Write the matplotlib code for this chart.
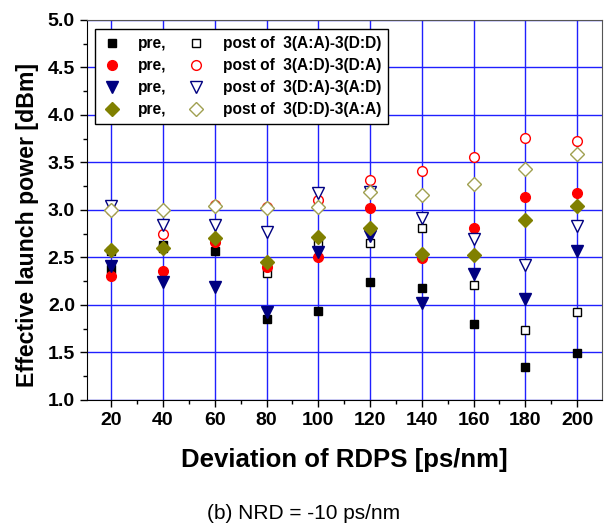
import matplotlib
matplotlib.use("Agg")
import matplotlib.pyplot as plt
from matplotlib.ticker import MultipleLocator, FormatStrFormatter

plt.rcParams["font.family"] = ["Liberation Sans", "DejaVu Sans"]

rdps = [20, 40, 60, 80, 100, 120, 140, 160, 180, 200]

# pre / post for each map
pre_aa_dd = [2.38, 2.63, 2.57, 1.85, 1.94, 2.24, 2.18, 1.80, 1.35, 1.49]
post_aa_dd = [2.57, 2.60, 2.68, 2.34, 2.65, 2.65, 2.81, 2.21, 1.74, 1.93]
pre_ad_da = [2.30, 2.36, 2.66, 2.40, 2.51, 3.02, 2.49, 2.81, 3.14, 3.18]
post_ad_da = [3.00, 2.75, 3.05, 3.03, 3.10, 3.32, 3.41, 3.56, 3.76, 3.73]
pre_da_ad = [2.41, 2.24, 2.19, 1.93, 2.56, 2.73, 2.02, 2.33, 2.06, 2.57]
post_da_ad = [3.04, 2.84, 2.84, 2.77, 3.18, 3.19, 2.92, 2.69, 2.42, 2.83]
pre_dd_aa = [2.58, 2.60, 2.70, 2.45, 2.72, 2.81, 2.54, 2.53, 2.89, 3.04]
post_dd_aa = [3.00, 3.00, 3.04, 3.02, 3.03, 3.19, 3.16, 3.27, 3.43, 3.59]

maps = ["3(A:A)-3(D:D)", "3(A:D)-3(D:A)", "3(D:A)-3(A:D)", "3(D:D)-3(A:A)"]

series = [
    (pre_aa_dd, post_aa_dd, "s", 6.0, "black", "black"),
    (pre_ad_da, post_ad_da, "o", 7.0, "#ff0000", "#ff0000"),
    (pre_da_ad, post_da_ad, "v", 8.0, "#000080", "#000080"),
    (pre_dd_aa, post_dd_aa, "D", 7.0, "#808000", "#a0a050"),
]

fig = plt.figure(figsize=(6.08, 5.29), dpi=100)
ax = fig.add_axes([0.1426, 0.2439, 0.847, 0.7183])

pre_handles, post_handles = [], []
for pre, post, mk, ms, col, opencol in series:
    h2, = ax.plot(rdps, post, ls="none", marker=mk, ms=ms, mfc="white",
                  mec=opencol, mew=1.0, zorder=3)
    h1, = ax.plot(rdps, pre, ls="none", marker=mk, ms=ms, mfc=col, mec=col,
                  mew=1.0, zorder=3)
    pre_handles.append(h1)
    post_handles.append(h2)

ax.set_xlim(10.5, 209.5)
ax.set_ylim(1.0, 5.0)
ax.xaxis.set_major_locator(MultipleLocator(20))
ax.xaxis.set_minor_locator(MultipleLocator(10))
ax.yaxis.set_major_locator(MultipleLocator(0.5))
ax.yaxis.set_minor_locator(MultipleLocator(0.25))
ax.yaxis.set_major_formatter(FormatStrFormatter("%.1f"))
ax.grid(True, which="major", color="#2020ff", lw=1.0, zorder=1)
ax.set_axisbelow(True)

ax.tick_params(which="both", direction="out", labelsize=14, width=1.0)
ax.tick_params(which="major", length=5)
ax.tick_params(which="minor", length=3)
for lab in ax.get_xticklabels() + ax.get_yticklabels():
    lab.set_fontweight("bold")
for s in ["left", "bottom"]:
    ax.spines[s].set_color("black")
for s in ["top", "right"]:
    ax.spines[s].set_color("#555555")

ax.set_xlabel("Deviation of RDPS [ps/nm]", fontsize=18.5, fontweight="bold",
              labelpad=14)
ax.set_ylabel("Effective launch power [dBm]", fontsize=16.7, fontweight="bold")
ax.yaxis.set_label_coords(-0.093, 0.46)

labels = ["pre,"] * 4 + ["post of  " + m for m in maps]
leg = ax.legend(pre_handles + post_handles, labels, ncol=2, loc="upper left",
                bbox_to_anchor=(0.017, 0.976), frameon=True, fancybox=False,
                edgecolor="black", framealpha=1, handlelength=1.2,
                handletextpad=1.1, columnspacing=1.3, labelspacing=0.45,
                borderpad=0.45, borderaxespad=0,
                prop={"weight": "bold", "size": 11.2})
leg.get_frame().set_linewidth(1.0)

fig.text(0.5, 0.03, "(b) NRD = -10 ps/nm", ha="center", va="center",
         fontsize=15)

fig.savefig("out.png", dpi=100)
